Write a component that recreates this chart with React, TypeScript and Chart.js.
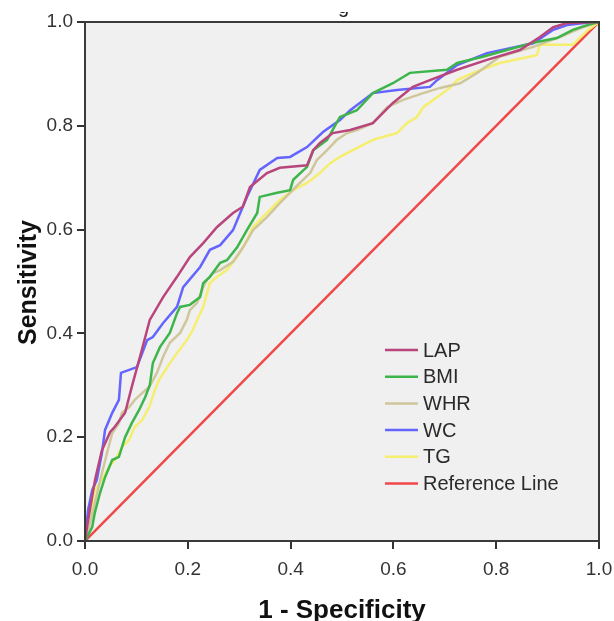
import { useEffect, useRef } from "react";
import { Chart, registerables } from "chart.js";

Chart.register(...registerables);

// ---- Data ----
const seriesNames = ["LAP", "BMI", "WHR", "WC", "TG", "Reference Line"];

const lapFpr = [0, 0.006, 0.02, 0.033, 0.049, 0.058, 0.078, 0.091, 0.107, 0.126, 0.152, 0.179, 0.204, 0.23, 0.257, 0.288, 0.307, 0.321, 0.354, 0.379, 0.432, 0.444, 0.457, 0.482, 0.516, 0.56, 0.599, 0.638, 0.671, 0.724, 0.782, 0.846, 0.885, 0.911, 0.938, 1];
const lapTpr = [0, 0.04, 0.12, 0.175, 0.21, 0.22, 0.247, 0.297, 0.355, 0.426, 0.47, 0.509, 0.547, 0.574, 0.605, 0.632, 0.644, 0.682, 0.709, 0.719, 0.724, 0.753, 0.767, 0.786, 0.792, 0.805, 0.844, 0.875, 0.888, 0.908, 0.927, 0.946, 0.971, 0.99, 0.998, 1];

const bmiFpr = [0, 0.014, 0.019, 0.029, 0.039, 0.053, 0.066, 0.078, 0.091, 0.105, 0.117, 0.126, 0.132, 0.146, 0.165, 0.179, 0.185, 0.204, 0.224, 0.23, 0.243, 0.263, 0.276, 0.296, 0.315, 0.335, 0.34, 0.374, 0.399, 0.405, 0.432, 0.444, 0.471, 0.496, 0.529, 0.56, 0.599, 0.632, 0.704, 0.724, 0.774, 0.821, 0.872, 0.918, 0.949, 0.977, 1];
const bmiTpr = [0, 0.027, 0.054, 0.092, 0.123, 0.156, 0.162, 0.2, 0.227, 0.252, 0.277, 0.3, 0.343, 0.374, 0.401, 0.439, 0.451, 0.455, 0.47, 0.497, 0.509, 0.536, 0.541, 0.566, 0.599, 0.632, 0.663, 0.671, 0.676, 0.696, 0.721, 0.753, 0.773, 0.817, 0.83, 0.863, 0.882, 0.902, 0.908, 0.921, 0.933, 0.946, 0.96, 0.969, 0.985, 0.994, 1];

const whrFpr = [0, 0.008, 0.019, 0.033, 0.043, 0.053, 0.066, 0.072, 0.086, 0.097, 0.111, 0.125, 0.14, 0.152, 0.165, 0.185, 0.198, 0.204, 0.218, 0.23, 0.237, 0.249, 0.263, 0.288, 0.307, 0.327, 0.354, 0.379, 0.399, 0.418, 0.438, 0.451, 0.471, 0.49, 0.51, 0.529, 0.56, 0.588, 0.619, 0.658, 0.691, 0.73, 0.763, 0.807, 0.872, 0.924, 0.969, 1];
const whrTpr = [0, 0.027, 0.073, 0.131, 0.17, 0.208, 0.227, 0.247, 0.258, 0.272, 0.285, 0.297, 0.324, 0.355, 0.382, 0.401, 0.426, 0.445, 0.459, 0.489, 0.503, 0.516, 0.522, 0.538, 0.565, 0.599, 0.624, 0.651, 0.671, 0.69, 0.709, 0.734, 0.753, 0.773, 0.786, 0.792, 0.805, 0.836, 0.85, 0.863, 0.873, 0.882, 0.902, 0.933, 0.952, 0.971, 0.99, 1];

const wcFpr = [0, 0.004, 0.006, 0.014, 0.023, 0.033, 0.039, 0.053, 0.066, 0.07, 0.101, 0.121, 0.132, 0.152, 0.179, 0.191, 0.224, 0.243, 0.263, 0.288, 0.302, 0.315, 0.34, 0.374, 0.399, 0.432, 0.463, 0.496, 0.516, 0.56, 0.607, 0.671, 0.685, 0.724, 0.782, 0.872, 0.911, 0.938, 0.988, 1];
const wcTpr = [0, 0.04, 0.06, 0.098, 0.118, 0.17, 0.214, 0.247, 0.272, 0.324, 0.335, 0.387, 0.393, 0.42, 0.451, 0.489, 0.528, 0.561, 0.57, 0.599, 0.632, 0.663, 0.715, 0.738, 0.74, 0.759, 0.788, 0.811, 0.83, 0.863, 0.869, 0.875, 0.888, 0.917, 0.94, 0.959, 0.985, 0.994, 1, 1];

const tgFpr = [0, 0.004, 0.008, 0.014, 0.019, 0.033, 0.047, 0.058, 0.072, 0.086, 0.097, 0.111, 0.125, 0.136, 0.144, 0.16, 0.179, 0.198, 0.21, 0.218, 0.23, 0.243, 0.257, 0.276, 0.296, 0.315, 0.327, 0.354, 0.379, 0.405, 0.432, 0.457, 0.477, 0.496, 0.521, 0.56, 0.607, 0.626, 0.646, 0.658, 0.685, 0.71, 0.724, 0.755, 0.807, 0.879, 0.885, 0.949, 0.977, 1];
const tgTpr = [0, 0.027, 0.04, 0.073, 0.098, 0.118, 0.143, 0.156, 0.181, 0.195, 0.22, 0.233, 0.258, 0.291, 0.31, 0.335, 0.362, 0.387, 0.407, 0.426, 0.451, 0.497, 0.509, 0.522, 0.547, 0.58, 0.605, 0.632, 0.657, 0.676, 0.69, 0.709, 0.728, 0.74, 0.753, 0.773, 0.786, 0.805, 0.817, 0.836, 0.855, 0.873, 0.888, 0.902, 0.921, 0.936, 0.956, 0.956, 0.983, 1];

const refFpr = [0, 1];
const refTpr = [0, 1];

const tickValues = [0, 0.2, 0.4, 0.6, 0.8, 1.0];

const seriesColors = ["#b9457d", "#3db54a", "#cfc79b", "#6464ff", "#f5ee6e", "#f04848"];

const xTitle = "1 - Specificity";
const yTitle = "Sensitivity";

function toPoints(xs: number[], ys: number[]) {
  return xs.map((x, i) => ({ x, y: ys[i] }));
}

const FONT = "'Liberation Sans', Arial, sans-serif";

const decorPlugin = {
  id: "decor",
  beforeDraw(chart: any) {
    const { ctx, chartArea } = chart;
    ctx.save();
    ctx.fillStyle = "#ffffff";
    ctx.fillRect(0, 0, chart.width, chart.height);
    ctx.fillStyle = "#f0f0f0";
    ctx.fillRect(chartArea.left, chartArea.top, chartArea.right - chartArea.left, chartArea.bottom - chartArea.top);
    ctx.restore();
  },
  afterDraw(chart: any) {
    const { ctx, chartArea } = chart;
    const { left, right, top, bottom } = chartArea;
    ctx.save();
    // frame
    ctx.strokeStyle = "#3a3a3a";
    ctx.lineWidth = 2;
    ctx.strokeRect(left, top, right - left, bottom - top);

    // clipped title fragment
    ctx.save();
    ctx.beginPath();
    ctx.rect(0, 12, chart.width, 10);
    ctx.clip();
    ctx.fillStyle = "#222";
    ctx.font = `20px ${FONT}`;
    ctx.textAlign = "center";
    ctx.textBaseline = "alphabetic";
    ctx.fillText("g", left + (right - left) * 0.503, 13);
    ctx.restore();

    // axis titles
    ctx.fillStyle = "#111";
    ctx.font = `bold 26px ${FONT}`;
    ctx.textAlign = "center";
    ctx.textBaseline = "alphabetic";
    ctx.fillText(xTitle, (left + right) / 2, 618);
    ctx.font = `bold 25px ${FONT}`;
    ctx.save();
    ctx.translate(36, (top + bottom) / 2 + 1);
    ctx.rotate(-Math.PI / 2);
    ctx.fillText(yTitle, 0, 0);
    ctx.restore();

    // legend
    const lx = left + 300;
    const ly = top + 328;
    const gap = 26.7;
    ctx.font = `20px ${FONT}`;
    ctx.textAlign = "left";
    ctx.textBaseline = "middle";
    seriesNames.forEach((name, i) => {
      const y = ly + i * gap;
      ctx.strokeStyle = seriesColors[i];
      ctx.lineWidth = 2.5;
      ctx.beginPath();
      ctx.moveTo(lx, y);
      ctx.lineTo(lx + 33, y);
      ctx.stroke();
      ctx.fillStyle = "#2a2a2a";
      ctx.fillText(name, lx + 38, y + 1);
    });
    ctx.restore();
  },
};

export default function App() {
  const ref = useRef<HTMLCanvasElement>(null);

  useEffect(() => {
    if (!ref.current) return;
    const xsList = [lapFpr, bmiFpr, whrFpr, wcFpr, tgFpr, refFpr];
    const ysList = [lapTpr, bmiTpr, whrTpr, wcTpr, tgTpr, refTpr];
    const datasets = seriesNames.map((name, i) => ({
      label: name,
      data: toPoints(xsList[i], ysList[i]),
      borderColor: seriesColors[i],
      backgroundColor: seriesColors[i],
      borderWidth: 2.5,
      pointRadius: 0,
      showLine: true,
      fill: false,
      tension: 0,
      order: i === 5 ? 10 : i,
    }));

    const chart = new Chart(ref.current, {
      type: "scatter",
      data: { datasets },
      options: {
        responsive: false,
        animation: false,
        devicePixelRatio: 1,
        layout: { padding: { top: 22, right: 15, left: 0, bottom: 0 } },
        plugins: {
          legend: { display: false },
          tooltip: { enabled: false },
          title: { display: false },
        },
        scales: {
          x: {
            type: "linear",
            min: 0,
            max: 1,
            afterFit: (s: any) => {
              s.height = 80;
              s.paddingLeft = 0;
              s.paddingRight = 0;
            },
            afterBuildTicks: (s: any) => {
              s.ticks = tickValues.map((v) => ({ value: v }));
            },
            ticks: {
              callback: (v: any) => Number(v).toFixed(1),
              color: "#333",
              font: { family: FONT, size: 19 },
              padding: 9,
              maxRotation: 0,
            },
            grid: {
              drawOnChartArea: false,
              drawTicks: true,
              tickLength: 8,
              color: "#333",
              lineWidth: 2,
            },
            border: { display: true, color: "#3a3a3a", width: 2 },
          },
          y: {
            type: "linear",
            min: 0,
            max: 1,
            afterFit: (s: any) => {
              s.width = 85;
              s.paddingTop = 0;
              s.paddingBottom = 0;
            },
            afterBuildTicks: (s: any) => {
              s.ticks = tickValues.map((v) => ({ value: v }));
            },
            ticks: {
              callback: (v: any) => Number(v).toFixed(1),
              color: "#333",
              font: { family: FONT, size: 19 },
              padding: 4,
            },
            grid: {
              drawOnChartArea: false,
              drawTicks: true,
              tickLength: 8,
              color: "#333",
              lineWidth: 2,
            },
            border: { display: true, color: "#3a3a3a", width: 2 },
          },
        },
      },
      plugins: [decorPlugin],
    } as any);
    return () => chart.destroy();
  }, []);

  return (
    <div style={{ position: "absolute", left: 0, top: 0, width: 614, height: 621 }}>
      <canvas ref={ref} width={614} height={621} style={{ display: "block" }} />
    </div>
  );
}
